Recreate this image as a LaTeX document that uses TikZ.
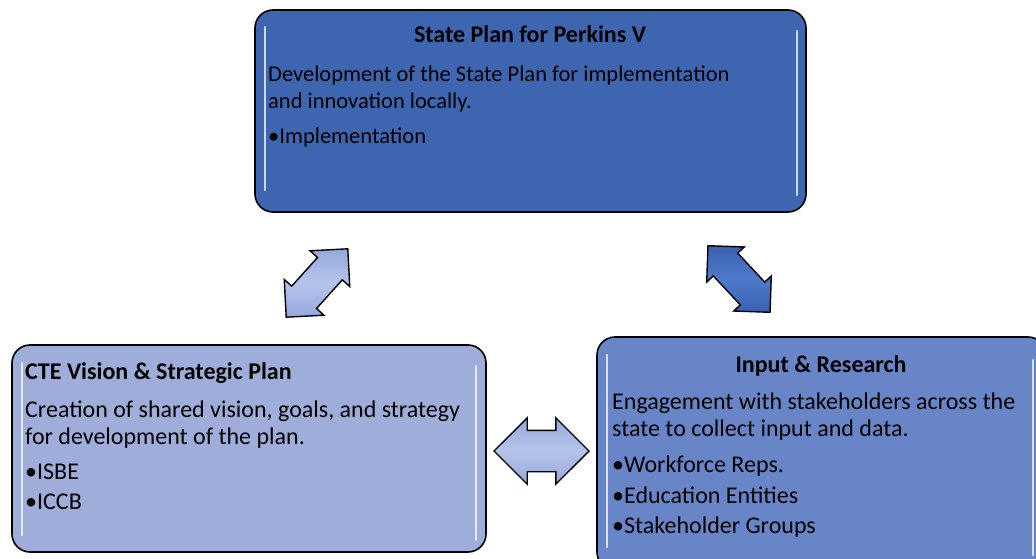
\documentclass[tikz,border=0pt]{standalone}
\usepackage{fontspec}
\setmainfont{Carlito}
\usetikzlibrary{shapes.arrows,calc}
\definecolor{plantop}{RGB}{62,101,176}
\definecolor{planleft}{RGB}{158,173,217}
\definecolor{planright}{RGB}{104,133,200}
\definecolor{arrlight}{RGB}{182,196,234}
\definecolor{arredge}{RGB}{150,168,220}
\definecolor{arrdark}{RGB}{80,122,204}
\definecolor{arrdeep}{RGB}{58,96,176}
\tikzset{
  box/.style={draw=black,line width=1.6pt,rounded corners=18pt,inner sep=0pt},
  boxtitle/.style={font=\fontsize{24}{28}\selectfont\bfseries,inner sep=0pt},
  boxtext/.style={font=\fontsize{#1}{26.5}\selectfont,inner sep=0pt,anchor=north west,align=left},
  boxtext/.default=24,
  dblarrow/.style={double arrow,draw=black,line width=1.4pt,inner xsep=0pt,double arrow head extend=#1},
  glint/.style={white,opacity=0.75,line width=2.4pt,line cap=round}
}
\begin{document}
\begin{tikzpicture}[x=1pt,y=-1pt]
\useasboundingbox (0,0) rectangle (1036,559);
% boxes
\node[box,fill=plantop,minimum width=551pt,minimum height=202pt] (state) at (530.5,111) {};
\node[box,fill=planleft,minimum width=474pt,minimum height=207pt] (vision) at (249,448.5) {};
\node[box,fill=planright,minimum width=449pt,minimum height=233pt] (input) at (821.5,453.5) {};
% glints
\draw[glint] (265,27)--(265,190) (797,31)--(797,195)
  (22,363)--(22,535) (476,366)--(476,540)
  (607,355)--(607,547) (1033,360)--(1033,555);
% texts
\node[boxtitle,anchor=base] (statett) at (530,43) {State Plan for Perkins V};
\node[boxtext=22.5] (statetx) at (268,66) {Development of the State Plan for implementation\\
  and innovation locally.\\[8.5pt]
  •Implementation};
\node[boxtitle,anchor=base west] (visiontt) at (25,379) {CTE Vision \& Strategic Plan};
\node[boxtext] (visiontx) at (25,401) {Creation of shared vision, goals, and strategy\\
  for development of the plan.\\[9pt]
  •ISBE\\[3.5pt]
  •ICCB};
\node[boxtitle,anchor=base] (inputtt) at (821,372) {Input \& Research};
\node[boxtext] (inputtx) at (612,393) {Engagement with stakeholders across the\\
  state to collect input and data.\\[10pt]
  •Workforce Reps.\\[4pt]
  •Education Entities\\[4pt]
  •Stakeholder Groups};
% arrows
\node[dblarrow=10pt,inner ysep=16pt,minimum height=92pt,rotate=48,
  top color=arredge,bottom color=arredge,middle color=arrlight] (arrsv) at (317,283) {};
\node[dblarrow=9pt,inner ysep=16pt,minimum height=91pt,rotate=-47,
  top color=arrdeep,bottom color=arrdeep,middle color=arrdark] (arrsi) at (739,279) {};
\node[dblarrow=12.5pt,inner ysep=20pt,minimum height=95pt,
  top color=arredge,bottom color=arredge,middle color=arrlight]
  (arrvi) at ($(vision.east)!0.5!(input.west)$) {};
\end{tikzpicture}
\end{document}
